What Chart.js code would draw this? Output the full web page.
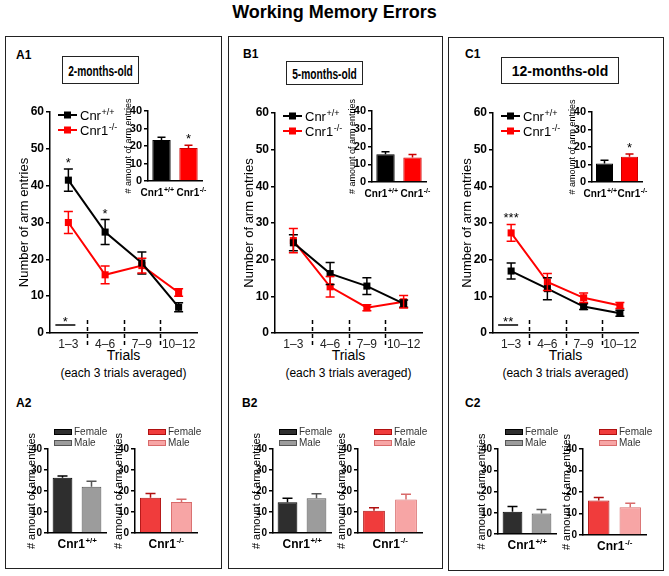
<!DOCTYPE html>
<html>
<head>
<meta charset="utf-8">
<script src="https://cdn.jsdelivr.net/npm/chart.js@4.4.0/dist/chart.umd.min.js"></script>
<style>
  body { margin: 0; background: #fff; font-family: "Liberation Sans", Arial, sans-serif; }
  #fig { position: relative; width: 669px; height: 576px; overflow: hidden; background: #fff; }
  #fig canvas { position: absolute; }
  .frame { position: absolute; border: 1.5px solid #222; box-sizing: border-box; }
  .plab { position: absolute; font-weight: bold; font-size: 12px; line-height: 12px; }
  .age { position: absolute; border: 1px solid #222; box-sizing: border-box; font-weight: bold;
         font-size: 15px; white-space: nowrap; background: #fff;
         display: flex; align-items: center; justify-content: center; }
  .age span { display: inline-block; flex: none; }
  .txt { position: absolute; text-align: center; white-space: nowrap; }
</style>
</head>
<body>
<div id="fig">
  <div class="txt" style="left:0;width:669px;top:2px;font-size:18px;font-weight:bold;">Working Memory Errors</div>

  <div class="frame" style="left:5px;top:36px;width:217px;height:533px;"></div>
  <div class="frame" style="left:228px;top:36px;width:215px;height:533px;"></div>
  <div class="frame" style="left:448px;top:37px;width:216px;height:534px;"></div>

  <div class="plab" style="left:16px;top:49px;">A1</div>
  <div class="plab" style="left:243px;top:48px;">B1</div>
  <div class="plab" style="left:465px;top:48px;">C1</div>
  <div class="plab" style="left:16px;top:397px;">A2</div>
  <div class="plab" style="left:242px;top:397px;">B2</div>
  <div class="plab" style="left:465px;top:397px;">C2</div>

  <div class="age" style="left:62px;top:56px;width:77px;height:28px;"><span style="transform:scaleX(0.68)">2-months-old</span></div>
  <div class="age" style="left:286px;top:61px;width:77px;height:24px;"><span style="transform:scaleX(0.68)">5-months-old</span></div>
  <div class="age" style="left:501px;top:57px;width:118px;height:27px;font-size:14px;"><span>12-months-old</span></div>

  <div class="txt" style="left:50px;width:147px;top:347px;font-size:14px;">Trials</div>
  <div class="txt" style="left:50px;width:147px;top:366px;font-size:12px;">(each 3 trials averaged)</div>
  <div class="txt" style="left:275px;width:147px;top:347px;font-size:14px;">Trials</div>
  <div class="txt" style="left:275px;width:147px;top:366px;font-size:12px;">(each 3 trials averaged)</div>
  <div class="txt" style="left:493px;width:145px;top:347px;font-size:14px;">Trials</div>
  <div class="txt" style="left:493px;width:145px;top:366px;font-size:12px;">(each 3 trials averaged)</div>
</div>

<script>
// ---- data ----
const trialLabels = ['1–3', '4–6', '7–9', '10–12'];
const seriesNames = ['Cnr+/+', 'Cnr1-/-'];

// 2 months
const wt2 = [41.5, 27.4, 19, 7];
const wt2Err = [3, 3.4, 3, 1.2];
const ko2 = [30, 15.8, 18.3, 11];
const ko2Err = [3, 2.4, 2, 1];
// 5 months
const wt5 = [24.6, 16.2, 12.8, 8];
const wt5Err = [2.2, 3, 2.3, 1];
const ko5 = [25.2, 12.6, 6.9, 8.5];
const ko5Err = [3.3, 2.8, 0.8, 1.7];
// 12 months
const wt12 = [16.9, 12.1, 7.2, 5.4];
const wt12Err = [2.2, 3, 0.8, 0.8];
const ko12 = [27.3, 13.9, 9.6, 7.5];
const ko12Err = [2.3, 2.3, 1.3, 0.8];

// inset totals (genotype)
const genotypes = ['Cnr1+/+', 'Cnr1-/-'];
const total2 = [23.5, 18.8];
const total2Err = [1.5, 1.7];
const total5 = [15.6, 13.8];
const total5Err = [1.4, 1.7];
const total12 = [10.6, 14.5];
const total12Err = [1.9, 1.5];

// by sex
const sexes = ['Female', 'Male'];
const wtSex2 = [26.3, 22];
const wtSex2Err = [0.8, 2.6];
const koSex2 = [16.8, 14.8];
const koSex2Err = [2, 1.3];
const wtSex5 = [14.7, 16.6];
const wtSex5Err = [1.9, 2.1];
const koSex5 = [10.6, 16];
const koSex5Err = [1.4, 2.5];
const wtSex12 = [10.5, 9.6];
const wtSex12Err = [2.4, 1.9];
const koSex12 = [16, 12.9];
const koSex12Err = [1.4, 1.9];

// ---- helpers ----
const FONT = '"Liberation Sans", Arial, sans-serif';
Chart.defaults.font.family = FONT;
Chart.defaults.color = '#000';

function makeCanvas(area, m) {
    const c = document.createElement('canvas');
    const w = Math.round(area.r - area.l + m.L + m.R);
    const h = Math.round(area.b - area.t + m.T + m.B);
    c.width = w; c.height = h;
    c.style.left = (area.l - m.L) + 'px';
    c.style.top = (area.t - m.T) + 'px';
    c.style.width = w + 'px';
    c.style.height = h + 'px';
    document.getElementById('fig').appendChild(c);
    return c;
}

function splitSup(s) {
    const m = s.match(/^(.*?)([+\-]\/[+\-])$/);
    return m ? [m[1], m[2]] : [s, ''];
}

// text with a raised superscript part, y is the baseline
function drawSup(ctx, x, y, text, size, bold, align) {
    const parts = splitSup(text);
    const f1 = (bold ? 'bold ' : '') + size + 'px ' + FONT;
    const f2 = (bold ? 'bold ' : '') + Math.round(size * 0.68) + 'px ' + FONT;
    ctx.font = f1;
    const w1 = ctx.measureText(parts[0]).width;
    ctx.font = f2;
    const w2 = ctx.measureText(parts[1]).width;
    let x0 = x - (w1 + w2) / 2;
    if (align === 'left') x0 = x;
    if (align === 'right') x0 = x - w1 - w2;
    ctx.textAlign = 'left';
    ctx.textBaseline = 'alphabetic';
    ctx.font = f1;
    ctx.fillText(parts[0], x0, y);
    ctx.font = f2;
    ctx.fillText(parts[1], x0 + w1 + 0.5, y - size * 0.42);
}

function pick(v, j) { return Array.isArray(v) ? v[j] : v; }

// error bars from dataset.errors
const errorBars = {
    id: 'errorBars',
    afterDatasetsDraw(chart, args, opts) {
        const ctx = chart.ctx, y = chart.scales.y;
        chart.data.datasets.forEach((ds, i) => {
            if (!ds.errors) return;
            chart.getDatasetMeta(i).data.forEach((el, j) => {
                const v = ds.data[j], e = ds.errors[j];
                const top = y.getPixelForValue(v + e);
                const bot = opts.upOnly ? y.getPixelForValue(v) : y.getPixelForValue(v - e);
                ctx.save();
                ctx.strokeStyle = pick(ds.borderColor, j);
                ctx.lineWidth = 1.5;
                ctx.beginPath();
                ctx.moveTo(el.x, top); ctx.lineTo(el.x, bot);
                ctx.moveTo(el.x - opts.cap, top); ctx.lineTo(el.x + opts.cap, top);
                if (!opts.upOnly) { ctx.moveTo(el.x - opts.cap, bot); ctx.lineTo(el.x + opts.cap, bot); }
                ctx.stroke();
                ctx.restore();
            });
        });
    }
};

// dashed separators between trial blocks
const separators = {
    id: 'separators',
    afterDraw(chart) {
        const x = chart.scales.x, ctx = chart.ctx, b = chart.chartArea.bottom;
        ctx.save();
        ctx.strokeStyle = '#000';
        ctx.lineWidth = 1.5;
        ctx.setLineDash([4, 3]);
        for (let i = 0; i < chart.data.labels.length - 1; i++) {
            const px = Math.round((x.getPixelForValue(i) + x.getPixelForValue(i + 1)) / 2) + 0.5;
            ctx.beginPath();
            ctx.moveTo(px, b - 13);
            ctx.lineTo(px, b + 13);
            ctx.stroke();
        }
        ctx.restore();
    }
};

// legend with line + square marker and superscript labels
const lineLegend = {
    id: 'lineLegend',
    afterDraw(chart) {
        const ctx = chart.ctx, a = chart.chartArea;
        chart.data.datasets.forEach((ds, i) => {
            const x = a.left + 8, y = a.top + 3 + i * 15;
            ctx.save();
            ctx.strokeStyle = ds.borderColor;
            ctx.lineWidth = 2;
            ctx.beginPath(); ctx.moveTo(x, y); ctx.lineTo(x + 19, y); ctx.stroke();
            ctx.fillStyle = ds.borderColor;
            ctx.fillRect(x + 6, y - 3.5, 7, 7);
            ctx.fillStyle = '#000';
            drawSup(ctx, x + 22, y + 5, ds.label, 13, false, 'left');
            ctx.restore();
        });
    }
};

// significance marks: {ds, idx, text} above a point, or {bar: idx, text} near the axis
function sigMarks(marks) {
    return {
        id: 'sigMarks',
        afterDraw(chart) {
            const ctx = chart.ctx, y = chart.scales.y, a = chart.chartArea;
            ctx.save();
            ctx.fillStyle = '#000'; ctx.strokeStyle = '#000';
            ctx.textAlign = 'center'; ctx.textBaseline = 'alphabetic';
            ctx.font = '13px ' + FONT;
            marks.forEach(mk => {
                if (mk.bar !== undefined) {
                    const cx = chart.scales.x.getPixelForValue(mk.bar) - 3;
                    const ly = a.bottom - 8;
                    ctx.lineWidth = 1.5;
                    ctx.beginPath(); ctx.moveTo(cx - 10, ly); ctx.lineTo(cx + 10, ly); ctx.stroke();
                    ctx.fillText(mk.text, cx, ly + 1);
                } else {
                    const ds = chart.data.datasets[mk.ds];
                    const el = chart.getDatasetMeta(mk.ds).data[mk.idx];
                    const top = y.getPixelForValue(ds.data[mk.idx] + (ds.errors ? ds.errors[mk.idx] : 0));
                    ctx.fillText(mk.text, el.x, top - 2);
                }
            });
            ctx.restore();
        }
    };
}

function yAxis(max, tickSize, title, titleSize, L) {
    return {
        min: 0, max: max,
        ticks: { stepSize: 10, font: { size: tickSize, weight: 'bold' }, color: '#000', padding: 2 },
        grid: { drawOnChartArea: false, tickLength: 4, color: '#000', lineWidth: 1.5 },
        border: { color: '#000', width: 1.5 },
        title: { display: true, text: title, font: { size: titleSize }, color: '#000', padding: 0 },
        afterFit: s => { s.width = L; }
    };
}

function lineChart(area, wt, wtErr, ko, koErr, marks) {
    const m = { L: Math.round(25 + 13 * 0.6), T: 14, R: 10, B: 28 };
    const canvas = makeCanvas(area, m);
    new Chart(canvas, {
        type: 'line',
        data: {
            labels: trialLabels,
            datasets: [
                { label: seriesNames[0], data: wt, errors: wtErr, borderColor: '#000', backgroundColor: '#000',
                  borderWidth: 2, pointStyle: 'rect', pointRadius: 5, pointBorderWidth: 0, tension: 0 },
                { label: seriesNames[1], data: ko, errors: koErr, borderColor: '#ff0000', backgroundColor: '#ff0000',
                  borderWidth: 2, pointStyle: 'rect', pointRadius: 5, pointBorderWidth: 0, tension: 0 }
            ]
        },
        options: {
            responsive: false,
            animation: false,
            layout: { padding: { top: m.T, right: m.R, left: 0, bottom: 0 } },
            plugins: { legend: { display: false }, tooltip: { enabled: false }, errorBars: { cap: 4.5, upOnly: false } },
            scales: {
                x: {
                    offset: true,
                    grid: { display: false, drawTicks: false },
                    border: { color: '#000', width: 1.5 },
                    ticks: { font: { size: 12 }, color: '#222', padding: 4, maxRotation: 0, minRotation: 0, autoSkip: false },
                    afterFit: s => { s.height = m.B; }
                },
                y: yAxis(60, 12, 'Number of arm entries', 13, m.L)
            }
        },
        plugins: [errorBars, separators, lineLegend, sigMarks(marks)]
    });
}

// small bar chart; mode 'inset' = genotype labels under bars, 'sex' = legend + one x label
function barChart(area, labels, values, errs, fills, borders, opt) {
    const titleSize = opt.titleSize;
    const m = { L: Math.round(opt.titleOffset + titleSize * 0.6), T: opt.T, R: 6, B: opt.B };
    const canvas = makeCanvas(area, m);
    const extra = {
        id: 'barText',
        afterDraw(chart) {
            const ctx = chart.ctx, a = chart.chartArea, xs = chart.scales.x;
            ctx.save();
            ctx.fillStyle = '#000';
            if (opt.mode === 'inset') {
                // first label ends just right of its bar, second starts near its bar
                drawSup(ctx, xs.getPixelForValue(0) + 12, a.bottom + 15, labels[0], 10, true, 'right');
                drawSup(ctx, xs.getPixelForValue(1) - 12, a.bottom + 15, labels[1], 10, true, 'left');
            } else {
                drawSup(ctx, (a.left + a.right) / 2, a.bottom + 15, opt.xLabel, 12, true, 'center');
                labels.forEach((lab, j) => {
                    const lx = a.left + opt.legendDx, ly = a.top - 17 + j * 11;
                    ctx.fillStyle = fills[j];
                    ctx.strokeStyle = borders[j];
                    ctx.lineWidth = 1;
                    ctx.fillRect(lx, ly - 3, 18, 6);
                    ctx.strokeRect(lx + 0.5, ly - 2.5, 17, 5);
                    ctx.fillStyle = '#333';
                    ctx.font = '10px ' + FONT;
                    ctx.textAlign = 'left';
                    ctx.textBaseline = 'middle';
                    ctx.fillText(lab, lx + 20, ly + 0.5);
                });
            }
            ctx.restore();
        }
    };
    new Chart(canvas, {
        type: 'bar',
        data: {
            labels: labels,
            datasets: [{ data: values, errors: errs, backgroundColor: fills, borderColor: borders,
                         borderWidth: 1, barPercentage: opt.barPct, categoryPercentage: 1 }]
        },
        options: {
            responsive: false,
            animation: false,
            layout: { padding: { top: m.T, right: m.R, left: 0, bottom: 0 } },
            plugins: { legend: { display: false }, tooltip: { enabled: false }, errorBars: { cap: opt.cap, upOnly: true } },
            scales: {
                x: {
                    grid: { display: false, drawTicks: false },
                    border: { color: '#000', width: 1.5 },
                    ticks: { display: false },
                    afterFit: s => { s.height = m.B; }
                },
                y: yAxis(40, opt.tickSize, '# amount of arm entries', titleSize, m.L)
            }
        },
        plugins: [errorBars, sigMarks(opt.marks || []), extra]
    });
}

// ---- top row: line charts with insets ----
lineChart({ l: 50, t: 112, r: 197, b: 333 }, wt2, wt2Err, ko2, ko2Err,
    [{ ds: 0, idx: 0, text: '*' }, { ds: 0, idx: 1, text: '*' }, { bar: 0, text: '*' }]);
lineChart({ l: 275, t: 113, r: 422, b: 333 }, wt5, wt5Err, ko5, ko5Err, []);
lineChart({ l: 493, t: 113, r: 638, b: 333 }, wt12, wt12Err, ko12, ko12Err,
    [{ ds: 1, idx: 0, text: '***' }, { bar: 0, text: '**' }]);

const insetOpt = { mode: 'inset', titleSize: 9, titleOffset: 20, T: 14, B: 20, barPct: 0.68, cap: 4, tickSize: 11 };
const gFill = ['#000000', '#ff0000'];
const gBorder = ['#000000', '#cc0000'];
barChart({ l: 148, t: 111, r: 202, b: 181 }, genotypes, total2, total2Err, gFill, gBorder,
    Object.assign({}, insetOpt, { marks: [{ ds: 0, idx: 1, text: '*' }] }));
barChart({ l: 372, t: 111, r: 426, b: 182 }, genotypes, total5, total5Err, gFill, gBorder, insetOpt);
barChart({ l: 592, t: 112, r: 642, b: 182 }, genotypes, total12, total12Err, gFill, gBorder,
    Object.assign({}, insetOpt, { marks: [{ ds: 0, idx: 1, text: '*' }] }));

// ---- bottom row: by sex ----
const wtFill = ['#2e2e2e', '#9c9c9c'];
const wtBorder = ['#000000', '#555555'];
const koFill = ['#f03c3c', '#f7a5a5'];
const koBorder = ['#b01010', '#d86a6a'];
const sexOpt = { mode: 'sex', titleSize: 11, titleOffset: 16, T: 28, B: 22, barPct: 0.68, cap: 5, tickSize: 10 };

barChart({ l: 48, t: 449, r: 106, b: 533 }, sexes, wtSex2, wtSex2Err, wtFill, wtBorder,
    Object.assign({}, sexOpt, { xLabel: 'Cnr1+/+', legendDx: 6 }));
barChart({ l: 135, t: 449, r: 197, b: 533 }, sexes, koSex2, koSex2Err, koFill, koBorder,
    Object.assign({}, sexOpt, { xLabel: 'Cnr1-/-', legendDx: 13 }));
barChart({ l: 273, t: 449, r: 331, b: 533 }, sexes, wtSex5, wtSex5Err, wtFill, wtBorder,
    Object.assign({}, sexOpt, { xLabel: 'Cnr1+/+', legendDx: 6 }));
barChart({ l: 358, t: 449, r: 422, b: 533 }, sexes, koSex5, koSex5Err, koFill, koBorder,
    Object.assign({}, sexOpt, { xLabel: 'Cnr1-/-', legendDx: 16 }));
barChart({ l: 498, t: 449, r: 556, b: 534 }, sexes, wtSex12, wtSex12Err, wtFill, wtBorder,
    Object.assign({}, sexOpt, { xLabel: 'Cnr1+/+', legendDx: 7 }));
barChart({ l: 583, t: 449, r: 646, b: 535 }, sexes, koSex12, koSex12Err, koFill, koBorder,
    Object.assign({}, sexOpt, { xLabel: 'Cnr1-/-', legendDx: 16 }));
</script>
</body>
</html>
